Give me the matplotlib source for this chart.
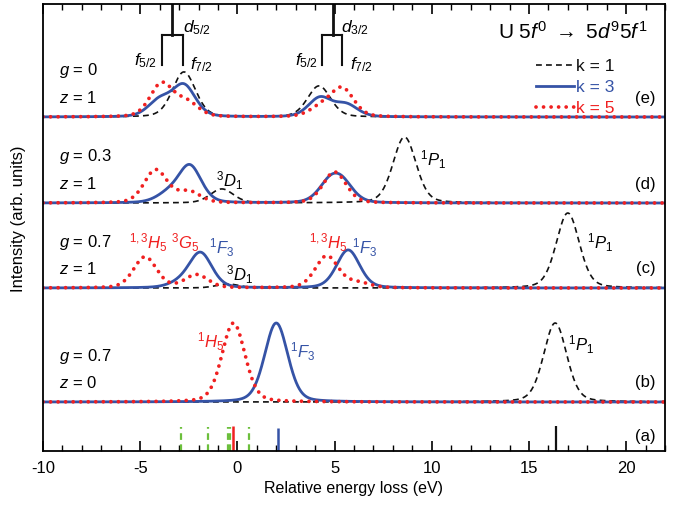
#!/usr/bin/env python3
"""U 5f0 -> 5d9 5f1 multiplet spectra, stacked panels (a)-(e)."""
import numpy as np
import matplotlib

matplotlib.use("Agg")
import matplotlib.pyplot as plt

plt.rcParams.update({
    "font.family": "Liberation Sans",
    "mathtext.fontset": "custom",
    "mathtext.rm": "Liberation Sans",
    "mathtext.it": "Liberation Sans:italic",
    "font.size": 12,
    "axes.unicode_minus": False,
})

BLACK, BLUE, RED, GREEN = "#111111", "#3553a6", "#f02020", "#6cbf3c"

# vertical offsets of panels (e), (d), (c), (b)
PANELS = ["e", "d", "c", "b"]
OFFSET = {"e": 334, "d": 248, "c": 163, "b": 49}
G_LABEL = {"e": "0", "d": "0.3", "c": "0.7", "b": "0.7"}
Z_LABEL = {"e": "1", "d": "1", "c": "1", "b": "0"}

# peak positions (eV) and heights for each rank k
K1_POS = {"e": [-2.75, 4.2], "d": [-0.8, 8.6], "c": [-0.5, 17.0], "b": [16.35]}
K1_HT = {"e": [45, 31], "d": [14, 66], "c": [4, 75], "b": [79]}
K3_POS = {"e": [-4.0, -2.75, 4.25, 5.6], "d": [-3.6, -2.45, 4.75, 5.4],
          "c": [-3.0, -1.9, 5.7], "b": [2.0]}
K3_HT = {"e": [16, 31, 19, 12], "d": [8, 37, 18, 17], "c": [4, 35, 38], "b": [79]}
K5_POS = {"e": [-3.9, -2.6, 4.3, 5.4], "d": [-4.2, -2.5, 5.0],
          "c": [-4.75, -2.1, 4.6, 6.2], "b": [-0.2]}
K5_HT = {"e": [33, 14, 9, 28], "d": [33, 11, 31], "c": [31, 13, 32, 5], "b": [79]}

# panel (a) stick spectrum
STICK_GREEN = [-2.9, -1.5, -0.5, -0.4, 0.6]
STICK_RED = [-0.25]
STICK_BLUE = [2.1]
STICK_BLACK = [16.4]
STICK_HT = 24


def profile(x, pos, ht, w=1.4, eta=0.25):
    y = np.zeros_like(x)
    for p, h in zip(pos, ht):
        d = (x - p) / (w / 2)
        y += h * (eta / (1 + d ** 2) + (1 - eta) * np.exp(-np.log(2) * d ** 2))
    return y


fig = plt.figure(figsize=(6.79, 5.2), dpi=100)
ax = fig.add_axes([43 / 679, 69 / 520, 622 / 679, 447 / 520])
x = np.linspace(-10, 22, 1600)

for p in PANELS:
    b = OFFSET[p]
    ax.plot(x, b + profile(x, K1_POS[p], K1_HT[p]), color=BLACK, lw=1.2,
            ls=(0, (3.5, 2.5)), label="k = 1" if p == "e" else None)
    ax.plot(x, b + profile(x, K3_POS[p], K3_HT[p]), color=BLUE, lw=2.0,
            label="k = 3" if p == "e" else None)
    ax.plot(x, b + profile(x, K5_POS[p], K5_HT[p]), color=RED, lw=2.7,
            ls=(0, (0.01, 2.0)), dash_capstyle="round",
            label="k = 5" if p == "e" else None)
    ax.text(-9.2, b + 46, rf"$g$ = {G_LABEL[p]}", va="center")
    ax.text(-9.2, b + 19, rf"$z$ = {Z_LABEL[p]}", va="center")
    ax.text(21.5, b + 19, f"({p})", va="center", ha="right")
ax.text(21.5, 14, "(a)", va="center", ha="right")

# sticks
ax.vlines(STICK_GREEN, 0, STICK_HT, colors=GREEN, lw=1.6, linestyles=(0, (3, 2)))
ax.vlines(STICK_RED, 0, STICK_HT + 1, colors=RED, lw=1.8)
ax.vlines(STICK_BLUE, 0, STICK_HT - 1, colors=BLUE, lw=1.8)
ax.vlines(STICK_BLACK, 0, STICK_HT + 1, colors=BLACK, lw=1.6)

# spin-orbit trees
for stem, legs in ((-3.35, (-3.9, -2.8)), (4.9, (4.35, 5.4))):
    ax.plot([stem, stem], [447, 416], color=BLACK, lw=2.0)
    ax.plot([legs[0], legs[1]], [416, 416], color=BLACK, lw=1.5)
    ax.plot([legs[0], legs[0]], [416, 386], color=BLACK, lw=1.5)
    ax.plot([legs[1], legs[1]], [416, 386], color=BLACK, lw=1.5)
ax.text(-2.8, 423, r"$d_{5/2}$", fontsize=12.5, va="center")
ax.text(5.35, 423, r"$d_{3/2}$", fontsize=12.5, va="center")
ax.text(-4.15, 390, r"$f_{5/2}$", fontsize=12.5, va="center", ha="right")
ax.text(-2.45, 386, r"$f_{7/2}$", fontsize=12.5, va="center")
ax.text(4.15, 390, r"$f_{5/2}$", fontsize=12.5, va="center", ha="right")
ax.text(5.8, 386, r"$f_{7/2}$", fontsize=12.5, va="center")
ax.text(13.4, 419, r"U 5$f^0$ $\rightarrow$ 5$d^9$5$f^1$", fontsize=15, va="center")

# term labels
ax.text(-1.1, 270, r"$^3D_1$", va="center")
ax.text(9.4, 291, r"$^1P_1$", va="center")
ax.text(-5.6, 208, r"$^{1,3}H_5$", va="center", color=RED)
ax.text(-3.4, 208, r"$^3G_5$", va="center", color=RED)
ax.text(-1.45, 203, r"$^1F_3$", va="center", color=BLUE)
ax.text(-0.6, 176, r"$^3D_1$", va="center")
ax.text(3.7, 208, r"$^{1,3}H_5$", va="center", color=RED)
ax.text(5.9, 203, r"$^1F_3$", va="center", color=BLUE)
ax.text(18.0, 208, r"$^1P_1$", va="center")
ax.text(-2.1, 109, r"$^1H_5$", va="center", color=RED)
ax.text(2.7, 99, r"$^1F_3$", va="center", color=BLUE)
ax.text(17.0, 106, r"$^1P_1$", va="center")

ax.legend(loc="upper left", bbox_to_anchor=(0.767, 0.912), frameon=False,
          fontsize=12.5, handlelength=2.2, handletextpad=0.15,
          labelspacing=0.33, labelcolor="linecolor")

ax.set_xlim(-10, 22)
ax.set_ylim(0, 447)
ax.set_xticks(np.arange(-10, 21, 5))
ax.set_xticks(np.arange(-10, 23, 1), minor=True)
ax.set_yticks([])
ax.tick_params(axis="x", which="both", direction="in", top=True, labelsize=12, pad=7)
ax.tick_params(axis="x", which="major", length=7, width=1.2)
ax.tick_params(axis="x", which="minor", length=4, width=1.0)
for s in ax.spines.values():
    s.set_linewidth(1.3)
ax.set_xlabel("Relative energy loss (eV)", fontsize=11.5, labelpad=4)
ax.set_ylabel("Intensity (arb. units)", fontsize=12)
ax.yaxis.set_label_coords(-0.028, 0.52)

fig.savefig("out.png", dpi=100)
